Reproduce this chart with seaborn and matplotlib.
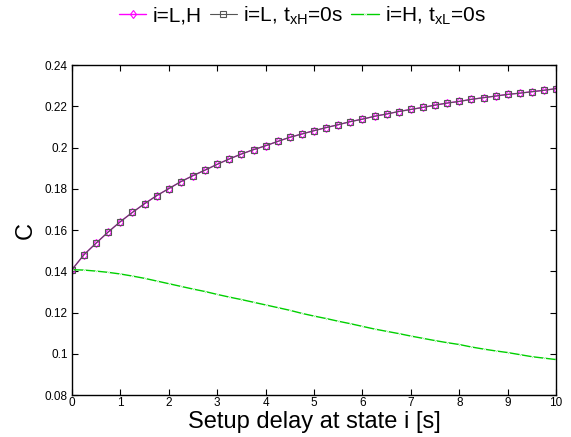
import numpy as np
import pandas as pd
import matplotlib
matplotlib.use("Agg")
import matplotlib.pyplot as plt
import seaborn as sns

# setup delay grid [s]
delay = [0.0, 0.25, 0.5, 0.75, 1.0, 1.25, 1.5, 1.75, 2.0, 2.25, 2.5, 2.75,
         3.0, 3.25, 3.5, 3.75, 4.0, 4.25, 4.5, 4.75, 5.0, 5.25, 5.5, 5.75,
         6.0, 6.25, 6.5, 6.75, 7.0, 7.25, 7.5, 7.75, 8.0, 8.25, 8.5, 8.75,
         9.0, 9.25, 9.5, 9.75, 10.0]

c_LH = [0.1408, 0.1481, 0.1537, 0.1591, 0.1641, 0.1686, 0.1728, 0.1767,
        0.1801, 0.1835, 0.1864, 0.1891, 0.1919, 0.1945, 0.1969, 0.1990,
        0.2009, 0.2030, 0.2050, 0.2066, 0.2082, 0.2097, 0.2111, 0.2126,
        0.2138, 0.2152, 0.2163, 0.2175, 0.2185, 0.2195, 0.2206, 0.2216,
        0.2224, 0.2234, 0.2242, 0.2250, 0.2258, 0.2264, 0.2271, 0.2278,
        0.2286]

c_L = [0.1408, 0.1481, 0.1537, 0.1591, 0.1641, 0.1686, 0.1728, 0.1767,
       0.1801, 0.1835, 0.1864, 0.1891, 0.1919, 0.1945, 0.1969, 0.1990,
       0.2009, 0.2030, 0.2050, 0.2066, 0.2082, 0.2097, 0.2111, 0.2126,
       0.2138, 0.2152, 0.2163, 0.2175, 0.2185, 0.2195, 0.2206, 0.2216,
       0.2224, 0.2234, 0.2242, 0.2250, 0.2258, 0.2264, 0.2271, 0.2278,
       0.2286]

c_H = [0.1408, 0.1406, 0.1401, 0.1395, 0.1387, 0.1377, 0.1366, 0.1353,
       0.1340, 0.1327, 0.1314, 0.1302, 0.1288, 0.1275, 0.1263, 0.1250,
       0.1237, 0.1224, 0.1211, 0.1196, 0.1183, 0.1171, 0.1158, 0.1146,
       0.1133, 0.1120, 0.1109, 0.1098, 0.1086, 0.1075, 0.1064, 0.1054,
       0.1045, 0.1033, 0.1023, 0.1014, 0.1006, 0.0996, 0.0986, 0.0979,
       0.0972]

x_ticks = [0, 1, 2, 3, 4, 5, 6, 7, 8, 9, 10]
y_ticks = [0.08, 0.10, 0.12, 0.14, 0.16, 0.18, 0.20, 0.22, 0.24]
y_tick_labels = ["0.08", "0.1", "0.12", "0.14", "0.16", "0.18", "0.2", "0.22", "0.24"]

sns.set_theme(style="white")
plt.rcParams["font.family"] = ["Liberation Sans", "DejaVu Sans"]
plt.rcParams.update({"text.color": "black", "axes.labelcolor": "black",
                     "xtick.color": "black", "ytick.color": "black"})

fig = plt.figure(figsize=(5.71, 4.37), dpi=100)
ax = fig.add_axes([0.126, 0.096, 0.848, 0.755])

sns.lineplot(x=delay, y=c_LH, ax=ax, color="#ff00ff", lw=1.0,
             marker="d", markersize=4.5, markerfacecolor="none",
             markeredgecolor="#ff00ff", markeredgewidth=0.8,
             label="i=L,H")
sns.lineplot(x=delay, y=c_L, ax=ax, color="#555555", lw=0.8,
             marker="s", markersize=4.5, markerfacecolor="none",
             markeredgecolor="#555555", markeredgewidth=0.8,
             label=r"i=L, t$_{\mathregular{xH}}$=0s")
sns.lineplot(x=delay, y=c_H, ax=ax, color="#00d000", lw=1.0,
             marker=".", markersize=2.5,
             label=r"i=H, t$_{\mathregular{xL}}$=0s")

ax.set_xlim(0, 10)
ax.set_ylim(0.08, 0.24)
ax.set_xticks(x_ticks)
ax.set_yticks(y_ticks)
ax.set_yticklabels(y_tick_labels)
ax.tick_params(direction="in", length=4, width=0.8, labelsize=8.5,
               top=True, right=True, bottom=True, left=True, pad=3)
ax.tick_params(axis="x", pad=1.5)
for s in ax.spines.values():
    s.set_visible(True)
    s.set_color("black")
    s.set_linewidth(1.0)

ax.set_xlabel("Setup delay at state i [s]", fontsize=17, labelpad=1)
ax.set_ylabel("C", fontsize=17, labelpad=6)

ax.legend(loc="center", bbox_to_anchor=(0.476, 1.15), ncol=3,
          frameon=False, fontsize=15, handlelength=1.3, handletextpad=0.3,
          columnspacing=0.4, borderaxespad=0)

fig.savefig("out.png", dpi=100, facecolor="white")
